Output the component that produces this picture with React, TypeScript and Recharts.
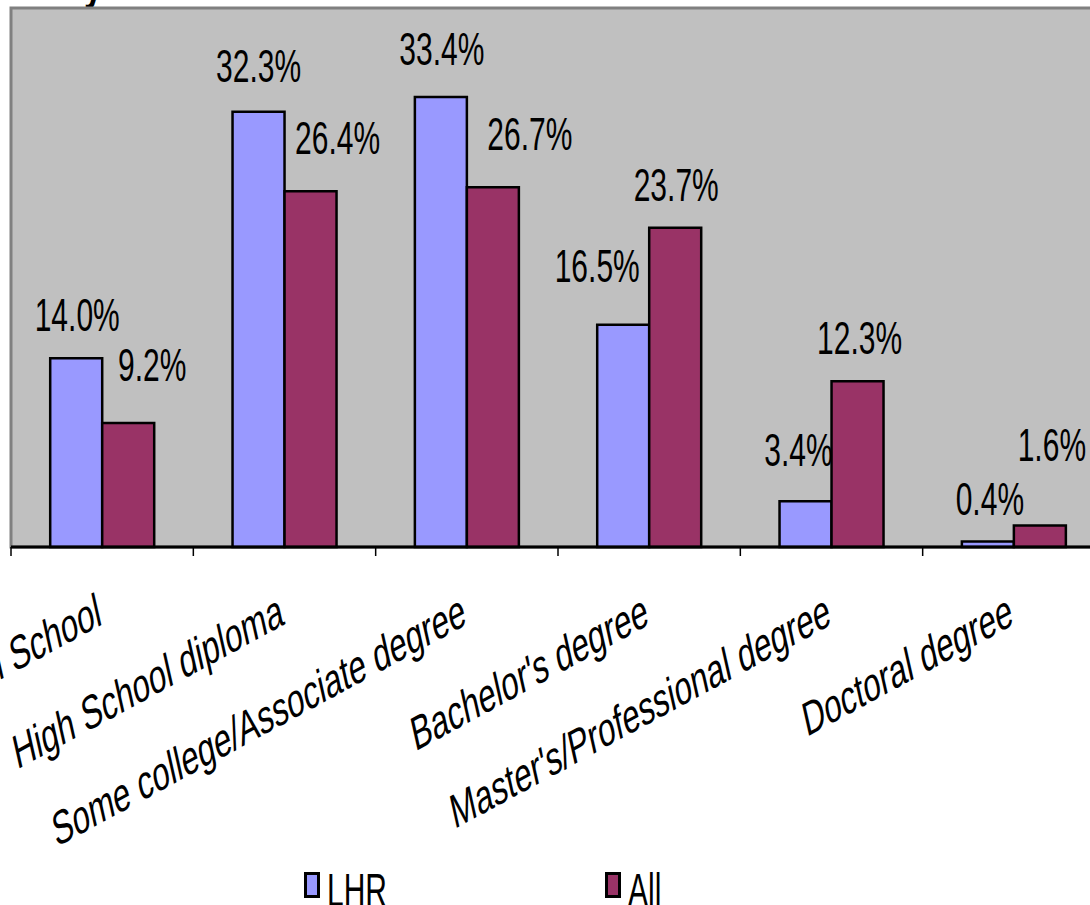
import React from "react";
import {
  Bar,
  BarChart,
  CartesianGrid,
  LabelList,
  Legend,
  ReferenceArea,
  XAxis,
  YAxis,
} from "recharts";

const categories = [
  "Less than High School",
  "High School diploma",
  "Some college/Associate degree",
  "Bachelor's degree",
  "Master's/Professional degree",
  "Doctoral degree",
];
const lhrValues = [14.0, 32.3, 33.4, 16.5, 3.4, 0.4];
const allValues = [9.2, 26.4, 26.7, 23.7, 12.3, 1.6];
const seriesNames = ["LHR", "All"];
const yDomain = [0, 40];

// the source chart had some labels dragged by hand: [dx, baseline offset from bar top]
const LHR_NUDGE = [[1, -27], [0, -30], [1, -32], [-26, -43], [-7, -35], [2, -27]];
const ALL_NUDGE = [[24, -42], [27, -37], [37, -37], [1, -27], [2, -27], [12, -64]];

const rows = categories.map((name, i) => ({ name, slot: i + 0.5, lhr: lhrValues[i], all: allValues[i] }));
const edgeTicks = [...categories.map((_, i) => i), categories.length];

const FONT = '"Liberation Sans", Arial, sans-serif';
const STRETCH = 1.57; // the picture is squashed sideways, text looks tall
const LHR_COLOR = "#9999FF";
const ALL_COLOR = "#993366";

const SHIFT = 300; // chart is wider than the window; left part is cropped off
const EDGE_AXIS = 0; // boundary ticks + axis line, sits right under the plot
const CAT_AXIS = 1; // category names

function makeValueLabel(nudge: number[][]) {
  return (props: any) => {
    const { x, y, width, value, index } = props;
    const [dx, dy] = nudge[index] ?? [0, -27];
    const cx = Number(x) + Number(width) / 2 + dx;
    const by = Number(y) + dy;
    return (
      <text
        transform={`translate(${cx},${by}) scale(1,${STRETCH})`}
        textAnchor="middle"
        fontFamily={FONT}
        fontSize={30}
        fill="#000"
      >
        {`${Number(value).toFixed(1)}%`}
      </text>
    );
  };
}

function CategoryTick({ x, y, payload }: any) {
  return (
    <text
      transform={`translate(${x + 1},${y + 76}) scale(1,1.55) rotate(-19.3)`}
      textAnchor="end"
      fontFamily={FONT}
      fontSize={31}
      fill="#000"
    >
      {payload.value}
    </text>
  );
}

function LegendContent() {
  const colors = [LHR_COLOR, ALL_COLOR];
  return (
    <svg width={420} height={45} style={{ display: "block", overflow: "visible" }}>
      {seriesNames.map((name, i) => (
        <g key={name} transform={`translate(${i * 301},0)`}>
          <rect x={6.5} y={7.5} width={13} height={23} fill={colors[i]} stroke="#000" strokeWidth={3} />
          <text
            transform={`translate(28,40) scale(1,${STRETCH})`}
            fontFamily={FONT}
            fontSize={30}
            fill="#000"
          >
            {name}
          </text>
        </g>
      ))}
    </svg>
  );
}

export default function App() {
  return (
    <div
      style={{
        position: "absolute",
        left: 0,
        top: 0,
        width: 1090,
        height: 905,
        overflow: "hidden",
        background: "#fff",
      }}
    >
      <svg width={1090} height={30} style={{ position: "absolute", left: 0, top: 0 }}>
        <text
          transform={`translate(84,-1) scale(1,1.55)`}
          fontFamily={FONT}
          fontWeight="bold"
          fontSize={34}
          fill="#000"
        >
          y
        </text>
      </svg>
      <div style={{ position: "absolute", left: -SHIFT, top: 0 }}>
        <BarChart
          width={1430}
          height={960}
          data={rows}
          margin={{ top: 8, right: 25, left: 311, bottom: 73 }}
          barCategoryGap="21.5%"
          barGap={0}
        >
          <CartesianGrid xAxisId={CAT_AXIS} horizontal={false} vertical={false} fill="#C0C0C0" fillOpacity={1} />
          <XAxis
            xAxisId={EDGE_AXIS}
            dataKey="slot"
            type="number"
            domain={[0, categories.length]}
            ticks={edgeTicks}
            allowDataOverflow
            height={1}
            tickSize={9}
            tickFormatter={() => ""}
            axisLine={{ stroke: "#000", strokeWidth: 3 }}
            tickLine={{ stroke: "#000", strokeWidth: 1.5 }}
          />
          <XAxis
            xAxisId={CAT_AXIS}
            dataKey="name"
            height={299}
            interval={0}
            axisLine={false}
            tickLine={false}
            tickSize={0}
            tickMargin={0}
            tick={<CategoryTick />}
          />
          <YAxis hide domain={yDomain} type="number" />
          <ReferenceArea
            xAxisId={EDGE_AXIS}
            x1={0}
            x2={categories.length}
            y1={yDomain[0]}
            y2={yDomain[1]}
            fill="none"
            stroke="#808080"
            strokeWidth={3}
          />
          <Legend
            verticalAlign="bottom"
            content={<LegendContent />}
            wrapperStyle={{ left: SHIFT + 299, top: 866, bottom: "auto", width: 420, height: 40 }}
          />
          <Bar
            xAxisId={CAT_AXIS}
            dataKey="lhr"
            name={seriesNames[0]}
            fill={LHR_COLOR}
            stroke="#000"
            strokeWidth={2.5}
            isAnimationActive={false}
          >
            <LabelList dataKey="lhr" content={makeValueLabel(LHR_NUDGE)} />
          </Bar>
          <Bar
            xAxisId={CAT_AXIS}
            dataKey="all"
            name={seriesNames[1]}
            fill={ALL_COLOR}
            stroke="#000"
            strokeWidth={2.5}
            isAnimationActive={false}
          >
            <LabelList dataKey="all" content={makeValueLabel(ALL_NUDGE)} />
          </Bar>
        </BarChart>
      </div>
    </div>
  );
}
